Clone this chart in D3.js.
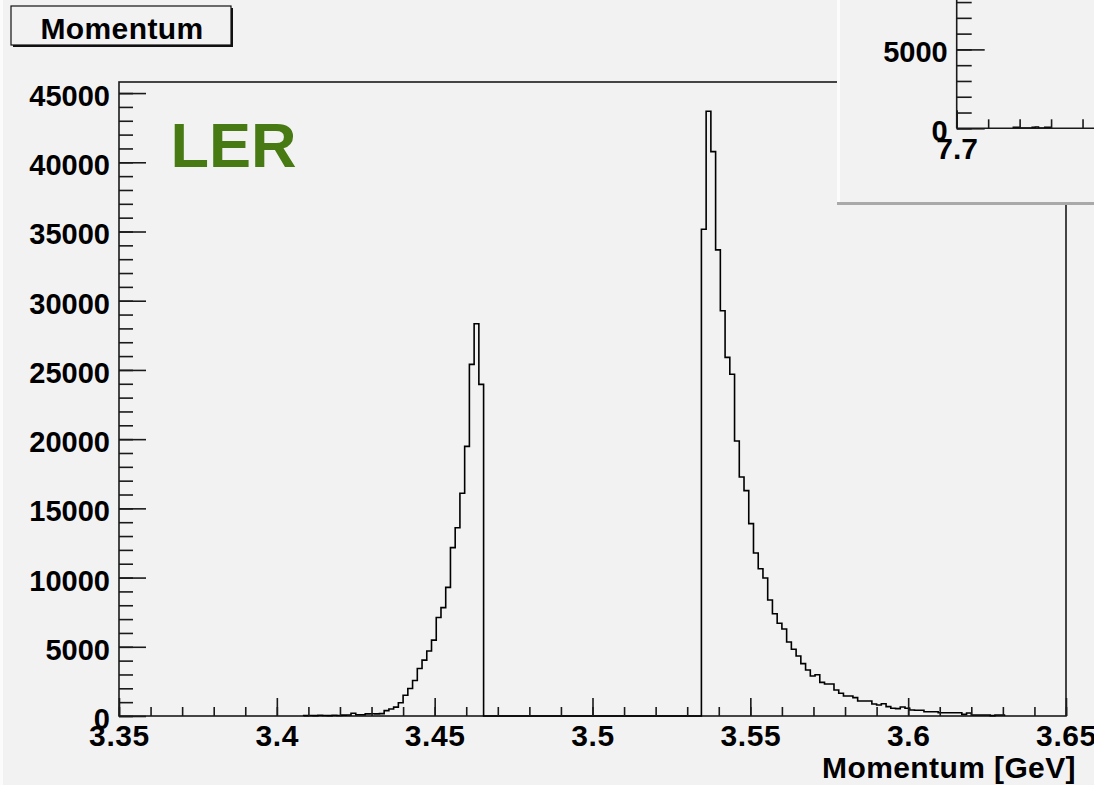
<!DOCTYPE html>
<html>
<head>
<meta charset="utf-8">
<script src="https://cdn.jsdelivr.net/npm/d3@7"></script>
<style>
  html, body { margin: 0; padding: 0; background: #f2f2f2; }
  svg { display: block; }
  text { font-family: "Liberation Sans", Arial, Helvetica, sans-serif; font-weight: bold; }
</style>
</head>
<body>
<svg id="chart" width="1094" height="785"></svg>
<script>
// ---- Histogram data (counts per 0.0015 GeV bin) ----
const binWidth = 0.0015;

// lower momentum group, first bin starts at 3.4085 GeV
const lowGroupStart = 3.4085;
const lowGroupCounts = [
  30, 40, 30, 50, 40, 30, 50, 40, 60, 70,
  200, 90, 90, 150, 160, 150, 170, 390, 510, 640,
  960, 1500, 1990, 2560, 3430, 4040, 4700, 5480, 7120, 7830,
  9290, 12160, 13600, 16090, 19480, 25400, 28340, 23960
];

// upper momentum group, first bin starts at 3.5345 GeV
const highGroupStart = 3.5345;
const highGroupCounts = [
  35160, 43690, 40770, 33670, 29280, 25910, 24690, 19870, 17270, 16280,
  13900, 11780, 10640, 9970, 8380, 7390, 6700, 6290, 5350, 4820,
  4335, 3780, 3320, 2890, 2985, 2430, 2310, 2310, 1880, 1640,
  1445, 1445, 1325, 1085, 1085, 1085, 870, 795, 890, 675,
  555, 530, 650, 555, 430, 410, 410, 310, 310, 310,
  240, 240, 240, 240, 240, 120, 215, 70, 70, 70,
  70, 25, 70, 70
];

// inset histogram (higher-energy ring), 0.002 GeV bins from 7.736 GeV
const insetBinWidth = 0.002;
const insetStart = 7.736;
const insetCounts = [70, 60, 20, 10, 10, 20, 70, 80, 20, 10, 60, 70];

// axis ticks
const xMajorTicks = [3.35, 3.40, 3.45, 3.50, 3.55, 3.60, 3.65];
const xMinorTicks = d3.range(0, 31).map(i => +(3.35 + i * 0.01).toFixed(2));
const yMajorTicks = [0, 5000, 10000, 15000, 20000, 25000, 30000, 35000, 40000, 45000];
const yMinorTicks = d3.range(0, 46).map(i => i * 1000);

const insetXMajorTicks = [7.7, 7.8];
const insetXMinorTicks = [7.72, 7.74, 7.76, 7.78];
const insetYMajorTicks = [0, 5000];
const insetYMinorTicks = [0, 1000, 2000, 3000, 4000, 5000, 6000, 7000, 8000];

const titleText = "Momentum";
const xTitle = "Momentum [GeV]";
const tagText = "LER";

// ---- Drawing ----
const svg = d3.select("#chart");
const W = 1094, H = 785;

svg.append("rect").attr("width", W).attr("height", H).attr("fill", "#f2f2f2");
svg.append("rect").attr("x", 0).attr("y", 0).attr("width", 3).attr("height", H).attr("fill", "#fbfbfb");

const frame = { left: 119, right: 1066, top: 82, bottom: 716 };

const x = d3.scaleLinear().domain([3.35, 3.65]).range([frame.left, frame.right]);
const y = d3.scaleLinear().domain([0, 45800]).range([frame.bottom, frame.top]);

const FS = 29;     // y tick labels
const FSX = 30;    // x tick labels and titles

// frame
svg.append("rect")
  .attr("x", frame.left).attr("y", frame.top)
  .attr("width", frame.right - frame.left).attr("height", frame.bottom - frame.top)
  .attr("fill", "none").attr("stroke", "#1a1a1a").attr("stroke-width", 1.6);

// bins for both groups
function buildBins(start, width, counts) {
  return counts.map((v, i) => ({ x0: start + i * width, x1: start + (i + 1) * width, v }));
}
function stepPoints(bins) {
  const pts = [[bins[0].x0, 0]];
  bins.forEach(b => { pts.push([b.x0, b.v]); pts.push([b.x1, b.v]); });
  pts.push([bins[bins.length - 1].x1, 0]);
  return pts;
}

const lowBins = buildBins(lowGroupStart, binWidth, lowGroupCounts);
const highBins = buildBins(highGroupStart, binWidth, highGroupCounts);
const allPts = stepPoints(lowBins).concat(stepPoints(highBins));

const line = d3.line().x(d => x(d[0])).y(d => y(d[1]));
svg.append("path")
  .attr("d", line(allPts))
  .attr("fill", "none").attr("stroke", "#000").attr("stroke-width", 1.6)
  .attr("stroke-linejoin", "miter");

function styleAxis(size) {
  return g => {
    g.select(".domain").remove();
    g.selectAll(".tick line").attr("stroke", "#1a1a1a").attr("stroke-width", 1.6);
    g.selectAll("text").attr("fill", "#000").style("font-size", size + "px")
      .style("font-weight", "bold").attr("font-family", null);
  };
}

// y axis: minor ticks then major ticks with labels
const yMinorAxis = d3.axisLeft(y).tickValues(yMinorTicks).tickSize(-14).tickFormat("");
const yMajorAxis = d3.axisLeft(y).tickValues(yMajorTicks).tickSize(-27).tickPadding(9)
  .tickFormat(d3.format("d"));

svg.append("g").attr("transform", `translate(${frame.left},0)`).call(yMinorAxis).call(styleAxis(FS));
svg.append("g").attr("transform", `translate(${frame.left},0)`).call(yMajorAxis).call(styleAxis(FS))
  .selectAll("text").attr("dy", "0.43em");

// x axis
const xMinorAxis = d3.axisBottom(x).tickValues(xMinorTicks).tickSize(-9).tickFormat("");
const xMajorAxis = d3.axisBottom(x).tickValues(xMajorTicks).tickSize(-18).tickPadding(9)
  .tickFormat(d => d3.format(".2~f")(d));

svg.append("g").attr("transform", `translate(0,${frame.bottom})`).call(xMinorAxis).call(styleAxis(FSX));
svg.append("g").attr("transform", `translate(0,${frame.bottom})`).call(xMajorAxis).call(styleAxis(FSX))
  .selectAll("text").style("letter-spacing", "0.6px");

// axis title
svg.append("text")
  .attr("x", 1076).attr("y", 778)
  .attr("text-anchor", "end")
  .style("font-size", FSX + "px")
  .style("letter-spacing", "0.4px")
  .text(xTitle);

// LER tag
svg.append("text")
  .attr("x", 170.5).attr("y", 167)
  .style("font-size", "63px")
  .attr("fill", "#477a12")
  .text(tagText);

// title box with shadow
const tb = { x: 11, y: 6, w: 220, h: 39 };
svg.append("rect").attr("x", tb.x + 2).attr("y", tb.y + 2).attr("width", tb.w).attr("height", tb.h).attr("fill", "#111");
svg.append("rect").attr("x", tb.x).attr("y", tb.y).attr("width", tb.w).attr("height", tb.h)
  .attr("fill", "#f2f2f2").attr("stroke", "#111").attr("stroke-width", 1.2);
svg.append("text")
  .attr("x", tb.x + tb.w / 2 + 1).attr("y", 38.5)
  .attr("text-anchor", "middle")
  .style("font-size", FSX + "px")
  .style("letter-spacing", "0.4px")
  .text(titleText);

// ---- inset pad (top right) ----
const inset = svg.append("g");
inset.append("rect").attr("x", 837).attr("y", -2).attr("width", W - 837 + 2).attr("height", 207).attr("fill", "#a9a9a9");
inset.append("rect").attr("x", 837).attr("y", -2).attr("width", W - 837 + 2).attr("height", 204).attr("fill", "#fcfcfc");
inset.append("rect").attr("x", 840).attr("y", -2).attr("width", W - 840 + 2).attr("height", 204).attr("fill", "#f2f2f2");

const ix = d3.scaleLinear().domain([7.7, 7.8]).range([956.7, 1114]);
const iy = d3.scaleLinear().domain([0, 5000]).range([128.3, 49.4]);

const insetBins = buildBins(insetStart, insetBinWidth, insetCounts);
const insetLine = d3.line().x(d => ix(d[0])).y(d => iy(d[1]));
inset.append("path")
  .attr("d", insetLine(stepPoints(insetBins)))
  .attr("fill", "none").attr("stroke", "#000").attr("stroke-width", 1.6);

// inset axes lines
inset.append("line").attr("x1", ix(7.7)).attr("x2", W + 5).attr("y1", iy(0)).attr("y2", iy(0))
  .attr("stroke", "#1a1a1a").attr("stroke-width", 1.6);
inset.append("line").attr("x1", ix(7.7)).attr("x2", ix(7.7)).attr("y1", iy(0)).attr("y2", -2)
  .attr("stroke", "#1a1a1a").attr("stroke-width", 1.6);

const iyMinor = d3.axisLeft(iy).tickValues(insetYMinorTicks).tickSize(-15).tickFormat("");
const iyMajor = d3.axisLeft(iy).tickValues(insetYMajorTicks).tickSize(-28).tickPadding(9).tickFormat(d3.format("d"));
inset.append("g").attr("transform", `translate(${ix(7.7)},0)`).call(iyMinor).call(styleAxis(FS));
inset.append("g").attr("transform", `translate(${ix(7.7)},0)`).call(iyMajor).call(styleAxis(FS))
  .selectAll("text").attr("dy", "0.43em");

const ixMinor = d3.axisBottom(ix).tickValues(insetXMinorTicks).tickSize(-9).tickFormat("");
const ixMajor = d3.axisBottom(ix).tickValues(insetXMajorTicks).tickSize(-18).tickPadding(9).tickFormat(d3.format(".1f"));
inset.append("g").attr("transform", `translate(0,${iy(0)})`).call(ixMinor).call(styleAxis(FSX));
inset.append("g").attr("transform", `translate(0,${iy(0)})`).call(ixMajor).call(styleAxis(FSX));
</script>
</body>
</html>
